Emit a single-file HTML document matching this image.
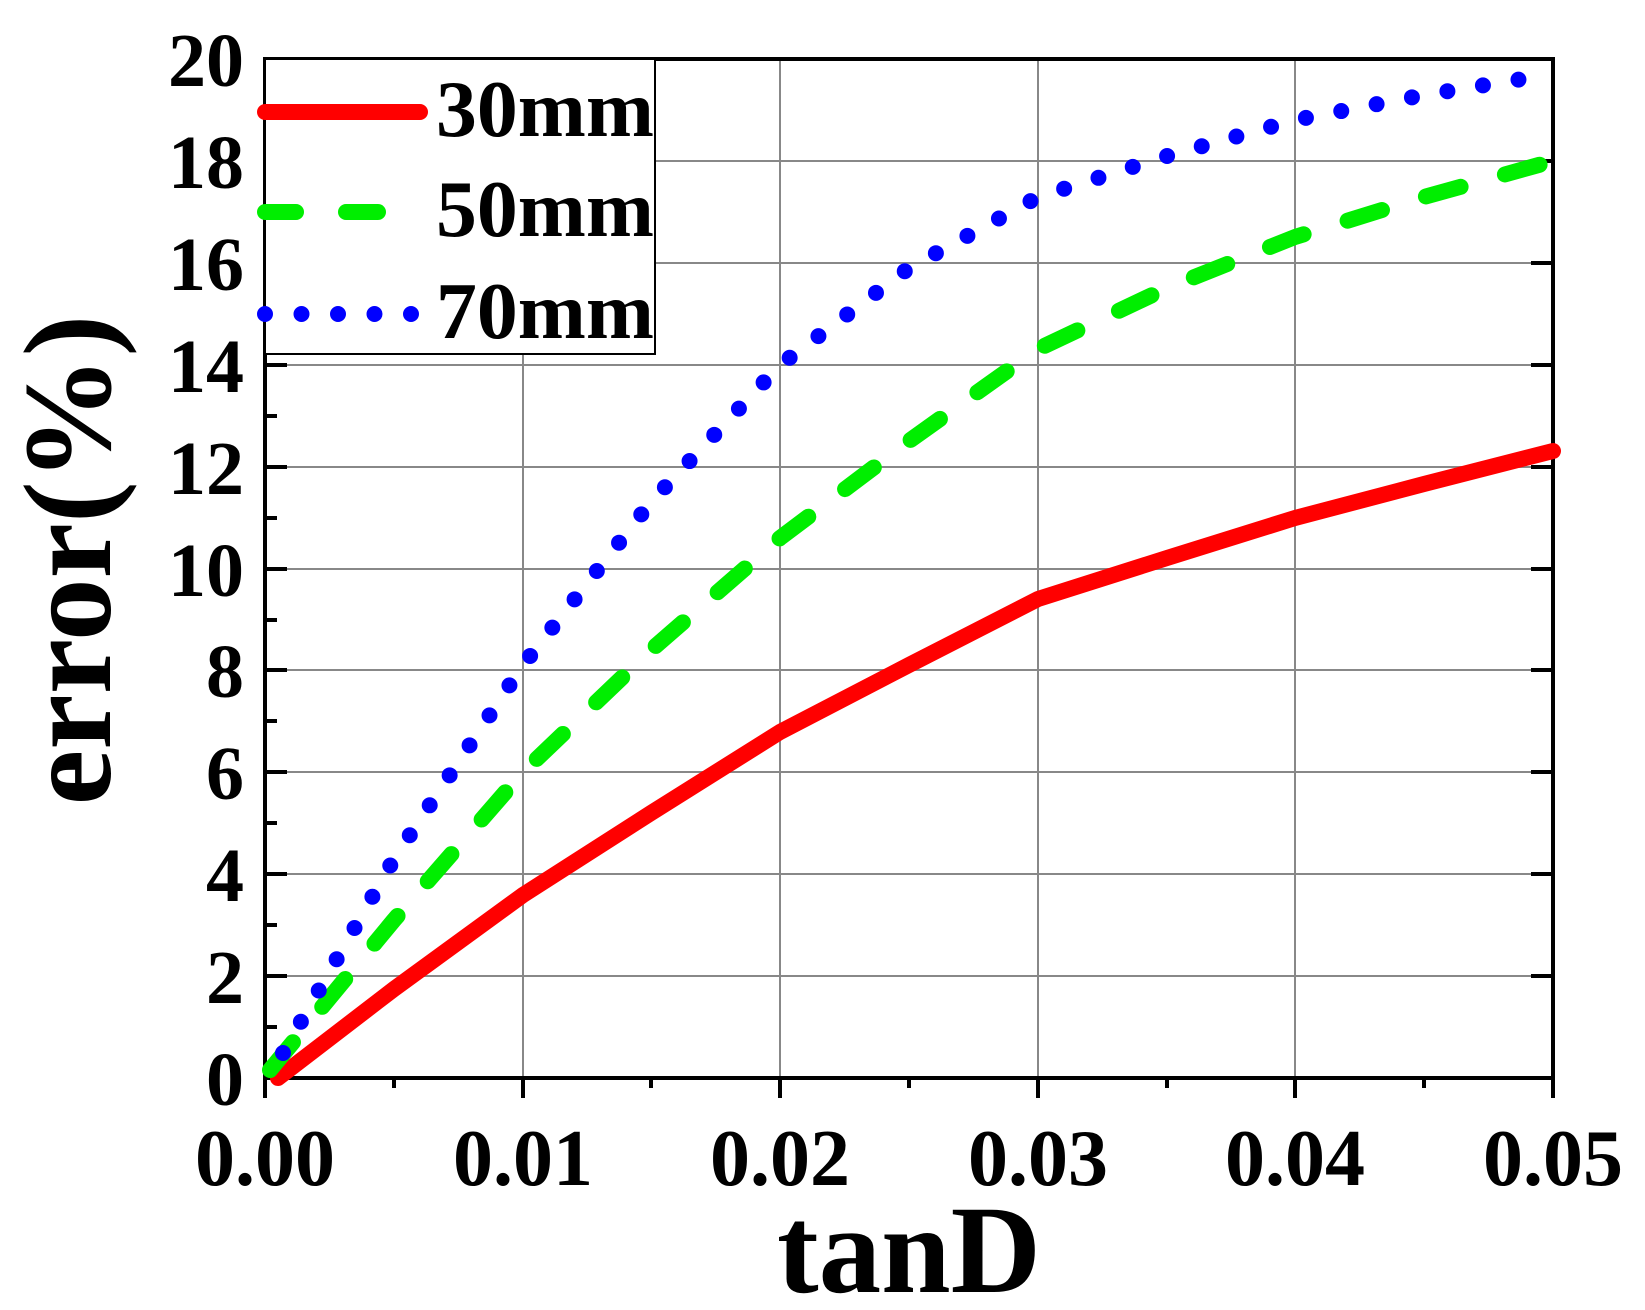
<!DOCTYPE html>
<html><head><style>body{margin:0;background:#fff}svg{display:block}</style></head>
<body>
<svg width="1645" height="1310" viewBox="0 0 1645 1310" xmlns="http://www.w3.org/2000/svg" font-family="Liberation Serif, serif" font-weight="bold">
<rect width="1645" height="1310" fill="#fff"/>
<g stroke="#888" stroke-width="2">
<line x1="523" y1="59" x2="523" y2="1078"/><line x1="780" y1="59" x2="780" y2="1078"/><line x1="1038" y1="59" x2="1038" y2="1078"/><line x1="1295" y1="59" x2="1295" y2="1078"/>
<line x1="265" y1="976" x2="1553" y2="976"/><line x1="265" y1="874" x2="1553" y2="874"/><line x1="265" y1="772" x2="1553" y2="772"/><line x1="265" y1="670" x2="1553" y2="670"/><line x1="265" y1="569" x2="1553" y2="569"/><line x1="265" y1="467" x2="1553" y2="467"/><line x1="265" y1="365" x2="1553" y2="365"/><line x1="265" y1="263" x2="1553" y2="263"/><line x1="265" y1="161" x2="1553" y2="161"/>
</g>
<g stroke="#000" stroke-width="4">
<rect x="265" y="59" width="1288" height="1019" fill="none"/>
<path d="M265 1078v20M394 1078v10M523 1078v20M651 1078v10M780 1078v20M909 1078v10M1038 1078v20M1167 1078v10M1295 1078v20M1424 1078v10M1553 1078v20"/>
<path d="M265 1027h12M265 976h22M265 925h12M265 874h22M265 823h12M265 772h22M265 721h12M265 670h22M265 620h12M265 569h22M265 518h12M265 467h22M265 416h12M265 365h22M265 314h12M265 263h22M265 212h12M265 161h22M265 110h12M1553 976h-22M1553 874h-22M1553 772h-22M1553 670h-22M1553 569h-22M1553 467h-22M1553 365h-22M1553 263h-22M1553 161h-22"/>
</g>
<g fill="none" stroke-linecap="round" stroke-linejoin="round">
<polyline stroke="#ff0000" stroke-width="16" points="278,1078 394,989 523,895 651,813 780,732 909,665 1038,599 1167,558 1295,518 1424,484 1553,451"/>
<polyline stroke="#00ee00" stroke-width="16" stroke-dasharray="36 46" points="270,1070 394,920 523,772 651,650 780,538 909,441 1038,349 1167,288 1295,237 1424,197 1553,161"/>
<polyline stroke="#0000ff" stroke-width="16" stroke-dasharray="0 36" points="283,1053 394,859 523,665 651,502 780,365 909,268 1038,197 1167,156 1295,120 1424,95 1553,74"/>
</g>
<rect x="265" y="59" width="390" height="295" fill="#fff" stroke="#000" stroke-width="2"/>
<g stroke-linecap="round">
<line x1="265" y1="112" x2="420" y2="112" stroke="#ff0000" stroke-width="16"/>
<line x1="265" y1="212" x2="296" y2="212" stroke="#00ee00" stroke-width="16"/>
<line x1="346" y1="212" x2="378" y2="212" stroke="#00ee00" stroke-width="16"/>
<line x1="265" y1="314" x2="412" y2="314" stroke="#0000ff" stroke-width="16" stroke-dasharray="0 36.5"/>
</g>
<g font-size="80" fill="#000">
<text x="436" y="136" textLength="218" lengthAdjust="spacingAndGlyphs">30mm</text>
<text x="436" y="236" textLength="218" lengthAdjust="spacingAndGlyphs">50mm</text>
<text x="436" y="338" textLength="218" lengthAdjust="spacingAndGlyphs">70mm</text>
</g>
<g font-size="76" fill="#000" text-anchor="end">
<text x="244" y="1105">0</text><text x="244" y="1003">2</text><text x="244" y="901">4</text><text x="244" y="799">6</text><text x="244" y="697">8</text><text x="244" y="596">10</text><text x="244" y="494">12</text><text x="244" y="392">14</text><text x="244" y="290">16</text><text x="244" y="188">18</text><text x="244" y="86">20</text>
</g>
<g font-size="80" fill="#000" text-anchor="middle">
<text x="265" y="1185">0.00</text><text x="523" y="1185">0.01</text><text x="780" y="1185">0.02</text><text x="1038" y="1185">0.03</text><text x="1295" y="1185">0.04</text><text x="1553" y="1185">0.05</text>
</g>
<text x="909" y="1292" font-size="125" text-anchor="middle">tanD</text>
<text transform="translate(110,560) rotate(-90)" font-size="125" text-anchor="middle">error(%)</text>
</svg>
</body></html>
